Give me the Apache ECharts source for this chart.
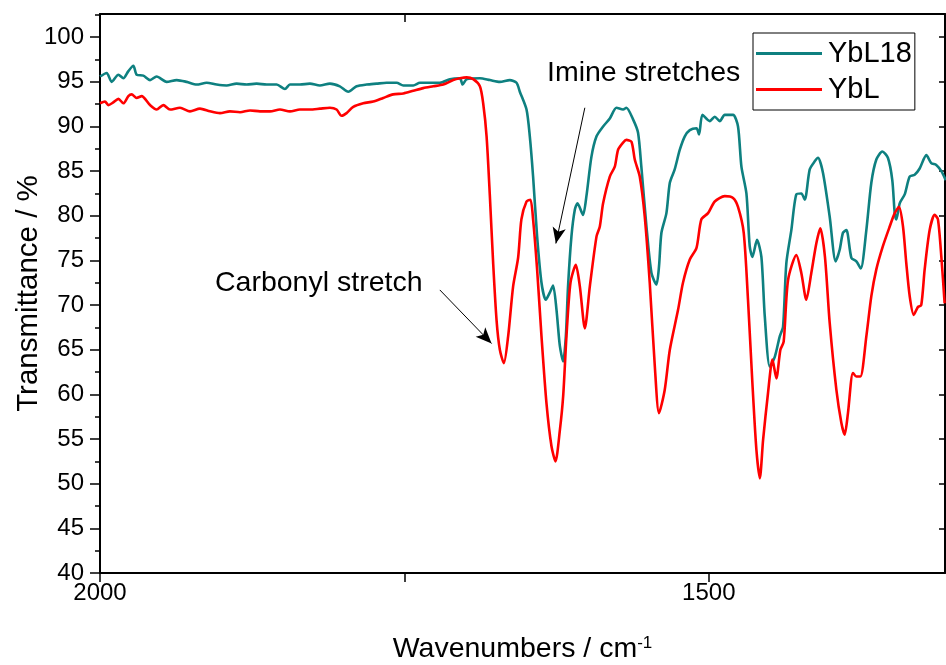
<!DOCTYPE html>
<html>
<head>
<meta charset="utf-8">
<script src="https://cdn.jsdelivr.net/npm/echarts@6/dist/echarts.min.js"></script>
<style>
  html, body { margin: 0; padding: 0; background: #fff; }
  #chart { width: 946px; height: 665px; }
</style>
</head>
<body>
<div id="chart"></div>
<script>
// FTIR spectra, 2000 - 1306 cm-1
const ybl18Wn = [2000,1994.5,1990.4,1984.9,1980.8,1976.7,1972.6,1969.9,1964.4,1958.9,1953.5,1945.3,1937.0,1928.8,1920.6,1912.4,1904.2,1896.0,1887.8,1879.6,1871.4,1863.2,1854.9,1848.1,1844.0,1835.8,1827.6,1819.4,1811.2,1803.0,1796.1,1789.3,1781.0,1772.8,1764.6,1756.4,1750.9,1742.7,1737.2,1729.0,1720.8,1712.6,1704.4,1702.2,1698.9,1688.0,1679.8,1671.6,1663.4,1657.9,1655.2,1649.7,1647.0,1644.3,1641.0,1637.4,1633.9,1630.6,1627.9,1625.1,1622.3,1619.6,1617.4,1615.6,1612.8,1610.0,1607.8,1603.3,1600.5,1596.4,1592.2,1586.8,1581.3,1575.8,1570.4,1567.7,1562.2,1558.1,1555.4,1551.2,1547.1,1543.0,1540.9,1538.9,1534.8,1532.0,1528.0,1523.8,1519.7,1515.6,1510.1,1508.0,1505.2,1499.2,1495.1,1491.0,1486.9,1480.1,1476.0,1473.2,1469.1,1466.4,1464.2,1460.4,1456.8,1454.0,1449.9,1445.8,1441.7,1439.0,1436.3,1432.2,1428.1,1424.0,1421.2,1417.1,1413.0,1410.3,1406.2,1400.7,1395.8,1392.5,1389.8,1387.0,1382.9,1378.8,1375.2,1370.6,1366.5,1362.4,1357.5,1352.9,1349.3,1347.3,1346.0,1343.2,1339.1,1335.0,1330.9,1326.8,1321.3,1317.3,1313.2,1309.0,1305.4];
const ybl18T = [95.6,96.0,95.0,95.8,95.4,96.2,96.8,95.8,95.7,95.2,95.6,95.0,95.2,95.0,94.7,94.9,94.7,94.6,94.8,94.7,94.8,94.7,94.7,94.2,94.7,94.7,94.8,94.6,94.8,94.5,93.9,94.5,94.7,94.8,94.9,94.9,94.6,94.6,94.9,94.9,94.9,95.3,95.4,94.7,95.3,95.4,95.2,95.0,95.2,94.9,93.9,91.9,88.9,84.4,77.7,72.5,70.6,71.4,72.2,69.5,65.4,63.7,66.5,72.1,77.7,80.7,81.4,80.1,82.2,86.6,88.9,90.0,90.9,92.1,91.9,92.1,90.8,89.3,85.5,78.8,73.6,72.3,74.3,78.1,80.3,83.7,85.2,87.4,88.9,89.6,89.8,89.1,91.3,90.6,91.1,90.6,91.3,91.3,90.0,85.5,82.5,76.6,75.4,77.3,75.4,68.7,63.1,64.2,66.5,67.6,74.7,78.4,82.4,82.5,81.8,85.2,86.1,86.5,84.8,79.9,74.9,76.2,78.1,78.4,75.3,74.9,74.1,78.4,83.7,86.3,87.2,86.5,84.0,80.3,79.6,81.4,82.4,84.4,84.6,85.3,86.8,85.9,85.7,85.0,84.0];

const yblWn = [2000,1995.9,1993.2,1989.1,1984.9,1980.8,1976.7,1974.0,1969.9,1965.8,1958.9,1953.5,1948.0,1942.5,1934.3,1926.1,1917.9,1909.7,1901.5,1893.3,1885.0,1876.8,1868.6,1860.4,1852.2,1844.0,1835.8,1827.6,1819.4,1811.2,1805.7,1801.6,1797.5,1792.0,1783.8,1775.6,1767.4,1759.2,1750.9,1742.7,1734.5,1726.3,1718.1,1709.9,1704.4,1698.9,1693.5,1688.0,1685.3,1682.5,1679.8,1677.1,1674.3,1671.6,1668.3,1664.8,1660.7,1656.6,1653.9,1649.7,1646.5,1644.3,1641.0,1637.4,1633.3,1629.2,1625.9,1622.3,1619.6,1616.9,1613.6,1609.2,1605.9,1601.8,1597.7,1592.2,1589.5,1586.8,1581.3,1577.2,1574.5,1570.4,1567.7,1563.5,1560.8,1556.7,1552.6,1548.5,1544.3,1540.9,1536.2,1532.0,1525.2,1521.2,1515.6,1510.1,1506.1,1500.6,1495.1,1486.9,1480.1,1476.0,1471.3,1467.8,1464.2,1460.9,1458.1,1455.4,1451.4,1447.7,1444.5,1441.2,1438.5,1434.9,1428.1,1424.0,1419.9,1415.8,1411.7,1408.4,1404.6,1400.7,1395.2,1391.1,1388.4,1385.7,1381.6,1378.8,1375.5,1370.6,1366.5,1362.4,1357.0,1351.4,1347.3,1343.8,1340.5,1337.8,1335.0,1331.7,1328.2,1325.5,1322.7,1318.6,1314.5,1311.8,1309.0,1306.3];
const yblT = [92.6,92.8,92.4,92.7,93.1,92.6,93.4,93.6,93.2,93.4,92.4,91.9,92.4,91.9,92.1,91.7,92.0,91.7,91.5,91.7,91.6,91.8,91.7,91.7,91.9,91.7,91.9,91.9,92.0,92.1,91.9,91.2,91.5,92.2,92.6,92.8,93.2,93.6,93.7,94.0,94.3,94.5,94.7,95.2,95.4,95.5,95.3,94.5,92.6,88.9,82.2,74.7,68.3,65.0,63.5,66.5,72.1,75.3,79.6,81.6,81.8,79.6,74.0,66.5,59.0,54.2,52.5,56.0,59.8,66.5,72.5,74.5,72.1,67.4,72.1,77.7,78.8,81.4,84.4,85.5,87.4,88.2,88.5,88.3,86.3,84.4,79.9,72.5,63.1,57.9,60.5,65.0,69.5,72.5,75.1,76.4,79.6,80.3,81.6,82.2,82.0,81.0,78.1,70.6,61.3,53.8,50.6,54.9,60.1,63.9,61.8,65.0,65.9,72.8,75.6,73.6,70.6,73.6,76.9,78.6,75.4,68.0,60.5,56.8,55.5,57.9,62.4,62.0,62.0,66.5,71.0,74.0,76.6,78.8,80.3,81.0,78.8,74.7,71.0,68.9,69.8,70.0,74.0,78.4,80.1,79.6,75.4,70.2];

// axis ticks and labels
const xMajorTicks = [2000, 1750, 1500];
const xLabels = [2000, 1500];
const yMajorTicks = [40, 45, 50, 55, 60, 65, 70, 75, 80, 85, 90, 95, 100];
const yMinorTicks = [42.5, 47.5, 52.5, 57.5, 62.5, 67.5, 72.5, 77.5, 82.5, 87.5, 92.5, 97.5, 102.5];

// annotation arrows: [start, tip] in (wavenumber, %T)
const imineArrow = [[1601.8, 92.1], [1625.6, 76.9]];
const carbonylArrow = [[1720.9, 71.7], [1678.4, 65.7]];

const FONT = 'Arial, "Liberation Sans", sans-serif';
const X_MIN = 1306, X_MAX = 2000, Y_MIN = 40, Y_MAX = 102.6;

const zip = (a, b) => a.map((v, i) => [v, b[i]]);

const chart = echarts.init(document.getElementById('chart'), null, { renderer: 'canvas' });

const axisLineStyle = { color: '#000', width: 2 };
const tickStyle = { width: 1.5, color: '#000' };

const arrowLine = (pts) => [{ coord: pts[0], symbol: 'none' }, { coord: pts[1], symbol: 'arrow', symbolSize: [10, 16] }];

chart.setOption({
  animation: false,
  backgroundColor: '#fff',
  grid: { left: 100, right: 1, top: 14, bottom: 92, containLabel: false, outerBoundsMode: 'none' },
  legend: {
    left: 753, top: 33,
    orient: 'vertical',
    padding: [6, 3, 6, 3],
    itemGap: 7,
    itemWidth: 66, itemHeight: 3,
    borderColor: '#000', borderWidth: 1,
    textStyle: { fontFamily: FONT, fontSize: 29, color: '#000', lineHeight: 29, padding: [0, 0, 0, 1] },
    data: [
      { name: 'YbL18', icon: 'rect' },
      { name: 'YbL', icon: 'rect' }
    ]
  },
  xAxis: [
    {
      type: 'value', position: 'bottom', inverse: true,
      min: X_MIN, max: X_MAX,
      axisLine: { show: true, onZero: false, lineStyle: axisLineStyle },
      axisTick: { show: true, inside: false, length: 9, lineStyle: tickStyle, customValues: xMajorTicks },
      axisLabel: { customValues: xLabels, formatter: v => String(v), fontFamily: FONT, fontSize: 24, color: '#000', margin: 8 },
      splitLine: { show: false },
      name: '{a|Wavenumbers / cm}{s|-1}',
      nameLocation: 'middle', nameGap: 62, nameMoveOverlap: false,
      nameTextStyle: {
        rich: {
          a: { fontFamily: FONT, fontSize: 28.5, color: '#000', verticalAlign: 'bottom' },
          s: { fontFamily: FONT, fontSize: 17, color: '#000', verticalAlign: 'top' }
        }
      }
    },
    {
      type: 'value', position: 'top', inverse: true,
      min: X_MIN, max: X_MAX,
      axisLine: { show: true, onZero: false, lineStyle: axisLineStyle },
      axisTick: { show: true, inside: true, length: 8, lineStyle: tickStyle, customValues: [1750] },
      axisLabel: { show: false },
      splitLine: { show: false }
    }
  ],
  yAxis: [
    {
      type: 'value', position: 'left',
      min: Y_MIN, max: Y_MAX,
      axisLine: { show: true, onZero: false, lineStyle: axisLineStyle },
      axisTick: { show: true, inside: false, length: 10, lineStyle: tickStyle, customValues: yMajorTicks },
      axisLabel: { customValues: yMajorTicks, fontFamily: FONT, fontSize: 24, color: '#000', margin: 16 },
      splitLine: { show: false },
      name: 'Transmittance / %',
      nameLocation: 'middle', nameGap: 56, nameMoveOverlap: false,
      nameTextStyle: { fontFamily: FONT, fontSize: 29.5, color: '#000' }
    },
    {
      type: 'value', position: 'left',
      min: Y_MIN, max: Y_MAX,
      axisLine: { show: false, onZero: false },
      axisTick: { show: true, inside: false, length: 5, lineStyle: tickStyle, customValues: yMinorTicks.filter(v => v < Y_MAX) },
      axisLabel: { show: false },
      splitLine: { show: false }
    },
    {
      type: 'value', position: 'right',
      min: Y_MIN, max: Y_MAX,
      axisLine: { show: true, onZero: false, lineStyle: axisLineStyle },
      axisTick: { show: true, inside: true, length: 6, lineStyle: tickStyle, customValues: yMajorTicks },
      axisLabel: { show: false },
      splitLine: { show: false }
    }
  ],
  series: [
    {
      name: 'YbL18', type: 'line', xAxisIndex: 0, yAxisIndex: 0,
      data: zip(ybl18Wn, ybl18T),
      symbol: 'none', showSymbol: false, smooth: 0.25,
      lineStyle: { color: '#0E8080', width: 2.6 },
      itemStyle: { color: '#0E8080' },
      clip: true, z: 3
    },
    {
      name: 'YbL', type: 'line', xAxisIndex: 0, yAxisIndex: 0,
      data: zip(yblWn, yblT),
      symbol: 'none', showSymbol: false, smooth: 0.25,
      lineStyle: { color: '#FF0000', width: 2.6 },
      itemStyle: { color: '#FF0000' },
      clip: true, z: 4,
      markLine: {
        silent: true, animation: false,
        symbol: ['none', 'arrow'], symbolSize: [10, 16],
        label: { show: false },
        lineStyle: { color: '#000', width: 1, type: 'solid' },
        emphasis: { disabled: true },
        data: [arrowLine(imineArrow), arrowLine(carbonylArrow)]
      }
    }
  ],
  graphic: [
    { type: 'text', left: 547, top: 59, style: { text: 'Imine stretches', font: '28.5px ' + FONT, fill: '#000' } },
    { type: 'text', left: 215, top: 269, style: { text: 'Carbonyl stretch', font: '28.5px ' + FONT, fill: '#000' } }
  ]
});
</script>
</body>
</html>
